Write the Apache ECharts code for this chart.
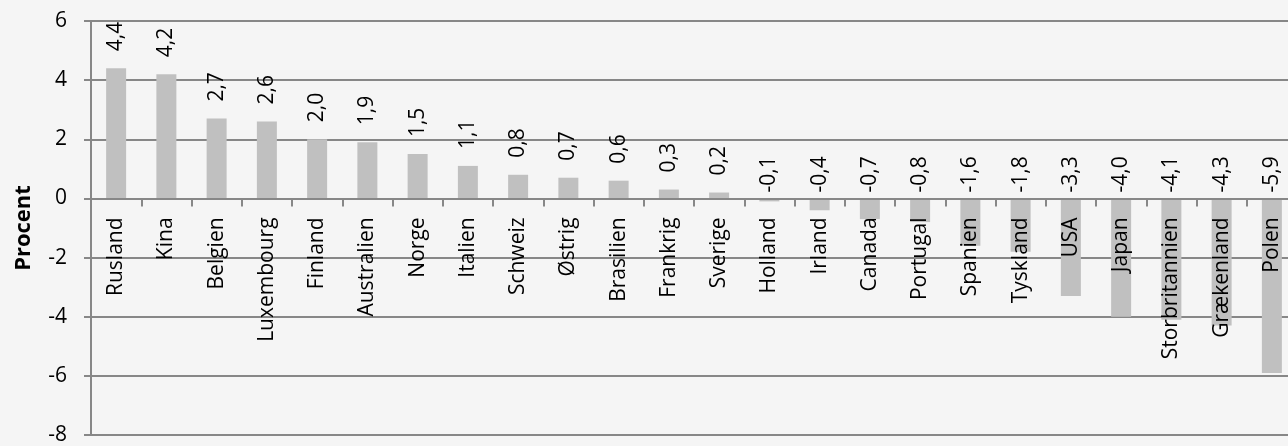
<!DOCTYPE html>
<html>
<head>
<meta charset="utf-8">
<script src="https://cdn.jsdelivr.net/npm/echarts@6/dist/echarts.min.js"></script>
<style>
html,body{margin:0;padding:0;background:#f5f5f5;}
#chart{width:1288px;height:446px;}
</style>
</head>
<body>
<div id="chart"></div>
<script>
const categories = ['Rusland','Kina','Belgien','Luxembourg','Finland','Australien','Norge','Italien','Schweiz','Østrig','Brasilien','Frankrig','Sverige','Holland','Irland','Canada','Portugal','Spanien','Tyskland','USA','Japan','Storbritannien','Grækenland','Polen'];
const values = [4.4,4.2,2.7,2.6,2.0,1.9,1.5,1.1,0.8,0.7,0.6,0.3,0.2,-0.1,-0.4,-0.7,-0.8,-1.6,-1.8,-3.3,-4.0,-4.1,-4.3,-5.9];
const yAxisName = 'Procent';
const yMin = -8, yMax = 6, yStep = 2;

const FONT = 'Open Sans';
const fmt = v => v.toFixed(1).replace('.', ',');

const seriesData = values.map(v => ({
  value: v,
  label: { distance: v >= 0 ? 17 : 6 }
}));

const chart = echarts.init(document.getElementById('chart'), null, {renderer:'canvas'});
chart.setOption({
  backgroundColor: '#f5f5f5',
  animation: false,
  grid: { left: 91, right: -9, top: 21, bottom: 11, containLabel: false, outerBoundsMode: 'none' },
  xAxis: {
    type: 'category',
    data: categories,
    position: 'bottom',
    offset: 0,
    z: 3,
    axisLine: { onZero: false, lineStyle: { color: '#878787', width: 2 } },
    axisTick: { show: true, alignWithLabel: false, length: 8, inside: false, lineStyle: { color: '#878787', width: 2 } },
    axisLabel: { interval: 0, rotate: 90, margin: 19, color: '#000', fontFamily: FONT, fontSize: 21 },
    splitLine: { show: false }
  },
  yAxis: {
    type: 'value',
    min: yMin, max: yMax, interval: yStep,
    name: yAxisName,
    nameLocation: 'middle',
    nameGap: 56,
    nameRotate: 90,
    nameTextStyle: { color: '#000', fontFamily: FONT, fontSize: 22, fontWeight: 'bold' },
    axisLine: { show: true, lineStyle: { color: '#878787', width: 2 } },
    axisTick: { show: true, length: 7, lineStyle: { color: '#878787', width: 2 } },
    axisLabel: { margin: 24, color: '#000', fontFamily: FONT, fontSize: 21 },
    splitLine: { show: true, lineStyle: { color: '#878787', width: 2 } }
  },
  series: [{
    type: 'bar',
    data: seriesData,
    barWidth: 20,
    itemStyle: { color: '#c0c0c0' },
    label: {
      show: true,
      position: 'top',
      rotate: 90,
      align: 'left',
      verticalAlign: 'middle',
      color: '#000',
      fontFamily: FONT,
      fontSize: 21,
      formatter: p => fmt(p.value)
    }
  }]
});
// move the category axis (line, ticks, labels) to the value-axis zero line
const zeroY = chart.convertToPixel({ yAxisIndex: 0 }, 0);
const bottomY = chart.convertToPixel({ yAxisIndex: 0 }, yMin);
chart.setOption({ xAxis: { offset: -(bottomY - zeroY) } });
</script>
</body>
</html>
